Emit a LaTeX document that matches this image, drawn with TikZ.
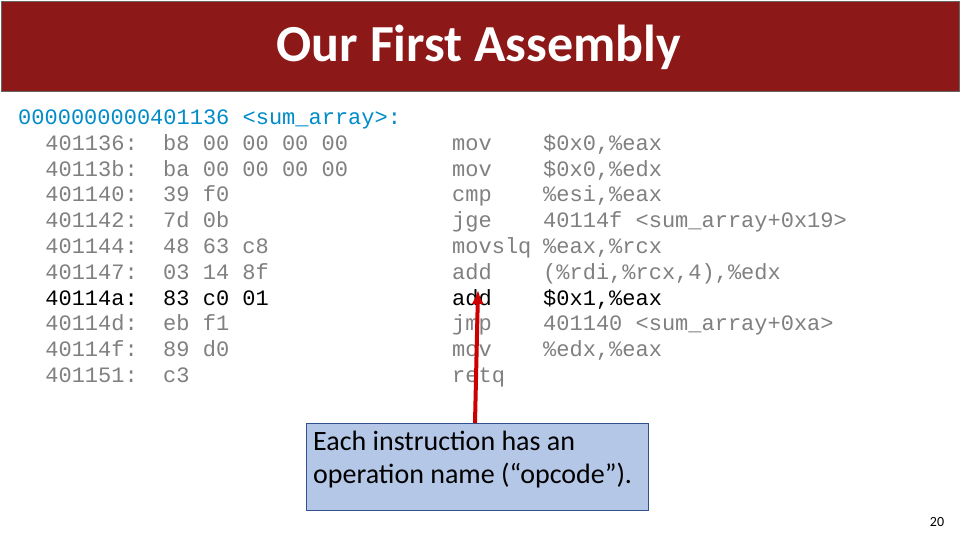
\documentclass[tikz,border=0pt]{standalone}
\usepackage{fontspec}
\usetikzlibrary{arrows.meta}
\setmainfont{Carlito}
\newfontfamily\codefont{Liberation Mono}
\newcommand\crow[6]{%
  \node[addr,text=#6] (a#1) at (138,148+25.8*#1) {#2};
  \node[code,text=#6] (b#1) at (163,148+25.8*#1) {#3};
  \node[code,text=#6] (m#1) at (452,148+25.8*#1) {#4};
  \node[code,text=#6] (o#1) at (543,148+25.8*#1) {#5};}
\begin{document}
\begin{tikzpicture}[x=1pt,y=-1pt,
  code/.style={font=\codefont\fontsize{22}{22}\selectfont,inner sep=0pt,anchor=mid west},
  addr/.style={code,anchor=mid east}]
\useasboundingbox (0,0) rectangle (960,540);
\fill[white] (0,0) rectangle (960,540);
\node[draw=black!60,fill={rgb,255:red,140;green,24;blue,24},minimum width=958,minimum height=90,anchor=north west,inner sep=0pt] (bar) at (1,1) {};
\node[text=white,font=\bfseries\fontsize{52}{52}\selectfont] (title) at (479,47) {Our First Assembly};
\node[code,text={rgb,255:red,0;green,140;blue,200}] (hdr) at (18,122) {0000000000401136 <sum\_array>:};
\crow{0}{401136:}{b8 00 00 00 00}{mov}{\$0x0,\%eax}{black!50}
\crow{1}{40113b:}{ba 00 00 00 00}{mov}{\$0x0,\%edx}{black!50}
\crow{2}{401140:}{39 f0}{cmp}{\%esi,\%eax}{black!50}
\crow{3}{401142:}{7d 0b}{jge}{40114f <sum\_array+0x19>}{black!50}
\crow{4}{401144:}{48 63 c8}{movslq}{\%eax,\%rcx}{black!50}
\crow{5}{401147:}{03 14 8f}{add}{(\%rdi,\%rcx,4),\%edx}{black!50}
\crow{6}{40114a:}{83 c0 01}{add}{\$0x1,\%eax}{black}
\crow{7}{40114d:}{eb f1}{jmp}{401140 <sum\_array+0xa>}{black!50}
\crow{8}{40114f:}{89 d0}{mov}{\%edx,\%eax}{black!50}
\crow{9}{401151:}{c3}{retq}{}{black!50}
\node[draw={rgb,255:red,47;green,82;blue,143},fill={rgb,255:red,180;green,199;blue,231},minimum width=342,minimum height=87,anchor=north west,inner sep=0pt] (box) at (306,423) {};
\node[anchor=north west,align=left,font=\fontsize{28}{33}\selectfont,inner sep=0pt] (boxtext) at (313,431) {Each instruction has an\\operation name (“opcode”).};
\coordinate (tip) at (478,290);
\coordinate (start) at (475,423);
\draw[line width=4pt,color={rgb,255:red,204;green,0;blue,0},-{Latex[length=14pt,width=12pt]}] (start) -- (tip);
\node[font=\fontsize{14}{14}\selectfont] (num) at (937,522) {20};
\end{tikzpicture}
\end{document}
